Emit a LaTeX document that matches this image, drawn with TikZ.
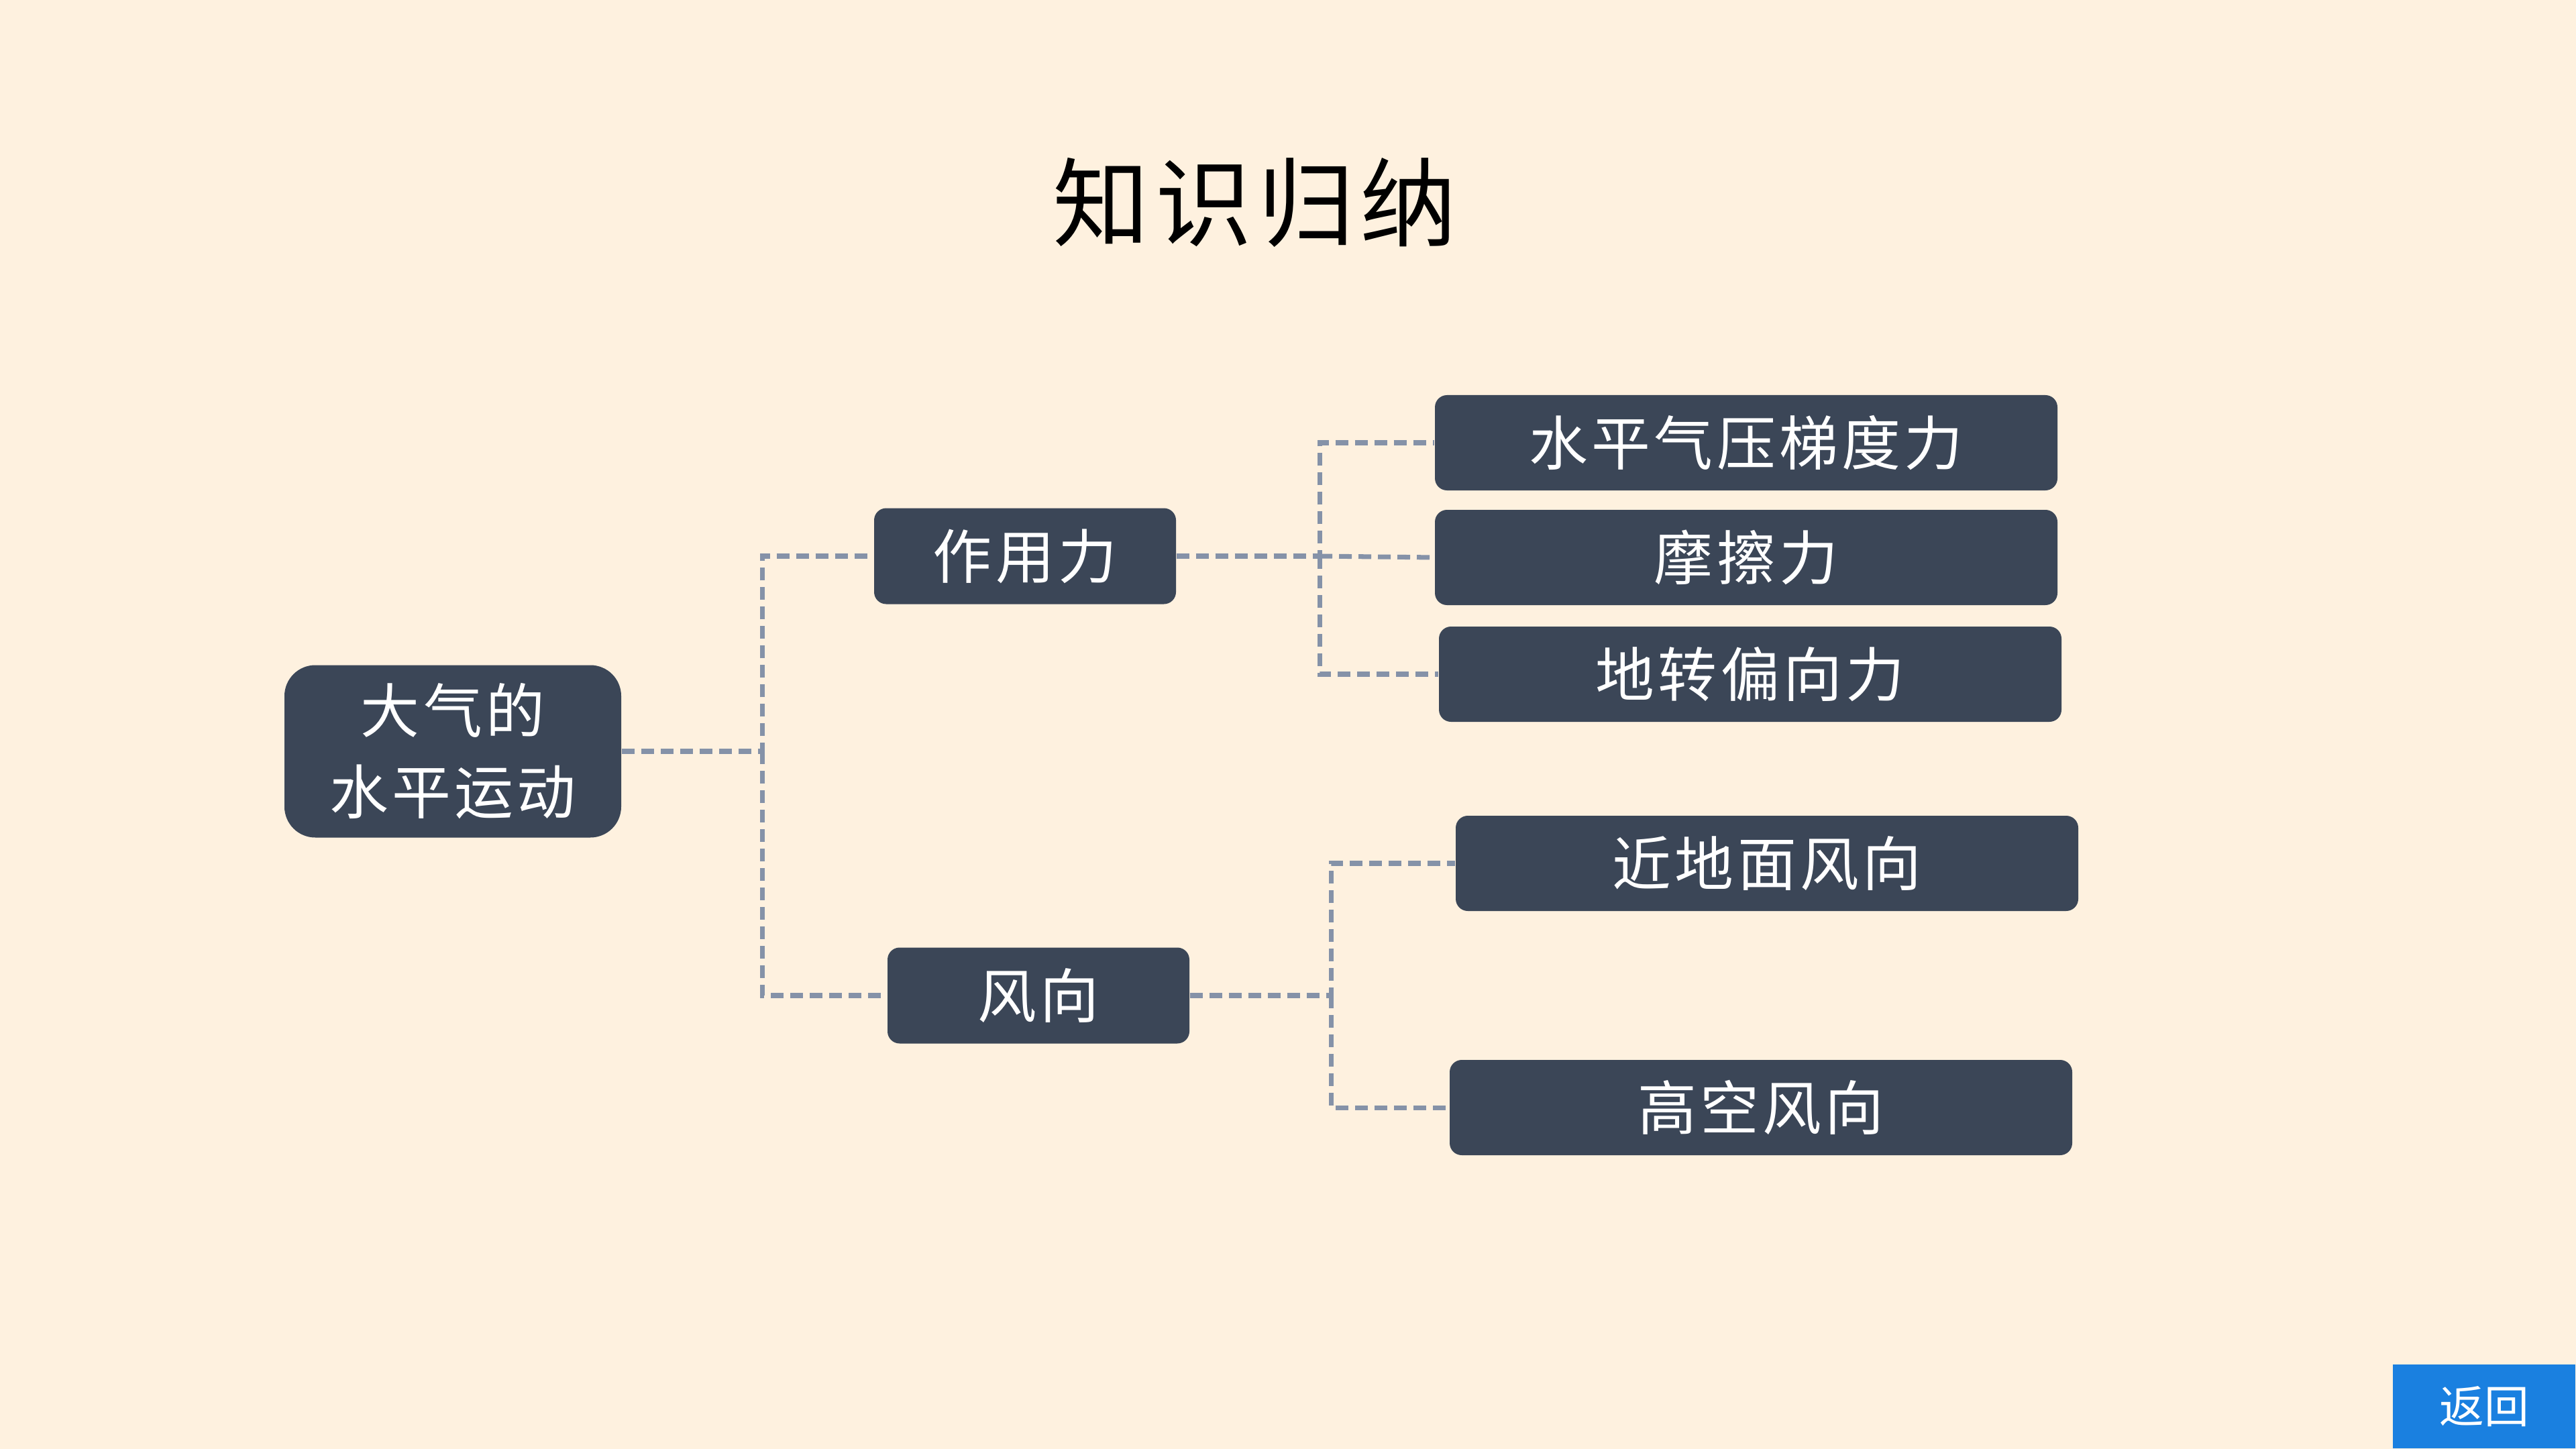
\documentclass[tikz,border=0pt]{standalone}
\usepackage{fontspec}
\newfontfamily\cjk[LetterSpace=6]{Noto Sans CJK SC}
\newfontfamily\cjkbtn{Noto Sans CJK SC}
\definecolor{bgcream}{HTML}{FEF1DF}
\definecolor{boxslate}{HTML}{3B4657}
\definecolor{linkgray}{HTML}{8592A8}
\definecolor{btnblue}{HTML}{1A80E0}

\begin{document}
\begin{tikzpicture}[
  box/.style={fill=boxslate,text=white,rounded corners=0.18cm,inner sep=0pt,
    font=\cjk\fontsize{25}{34.4}\selectfont,align=center},
  leaf/.style={box,minimum width=9.28cm,minimum height=1.42cm},
  mid/.style={box,minimum width=4.5cm,minimum height=1.43cm},
  link/.style={draw=linkgray,line width=2pt,dash pattern=on 0.19cm off 0.1cm}]
\fill[bgcream] (0,0) rectangle (38.4,-21.6);
\node[font=\cjk\fontsize{41}{41}\selectfont] (title) at (18.71,-3.02) {知识归纳};
\node[box,rounded corners=0.46cm,minimum width=5.02cm,minimum height=2.57cm] (root) at (6.75,-11.2) {大气的\\水平运动};
\node[mid] (zuoyong) at (15.28,-8.29) {作用力};
\node[mid] (fengxiang) at (15.48,-14.84) {风向};
\node[leaf] (tidu) at (26.03,-6.6) {水平气压梯度力};
\node[leaf] (mocha) at (26.03,-8.31) {摩擦力};
\node[leaf] (dizhuan) at (26.09,-10.05) {地转偏向力};
\node[leaf] (jindimian) at (26.34,-12.87) {近地面风向};
\node[leaf] (gaokong) at (26.25,-16.51) {高空风向};
\coordinate (j1) at (11.36,-11.2);
\coordinate (j2) at (19.67,-8.29);
\coordinate (j3) at (19.84,-14.84);
\draw[link] (root.east) -- (j1) |- (zuoyong.west);
\draw[link] (j1) |- (fengxiang.west);
\draw[link] (zuoyong.east) -- (j2) |- (tidu.west);
\draw[link] (j2) -- (mocha.west);
\draw[link] (j2) |- (dizhuan.west);
\draw[link] (fengxiang.east) -- (j3) |- (jindimian.west);
\draw[link] (j3) |- (gaokong.west);
\node[fill=btnblue,text=white,anchor=south east,minimum width=2.72cm,minimum height=1.25cm,
  font=\cjkbtn\fontsize{19}{19}\selectfont] (fanhui) at (38.4,-21.6) {返回};
\end{tikzpicture}
\end{document}
